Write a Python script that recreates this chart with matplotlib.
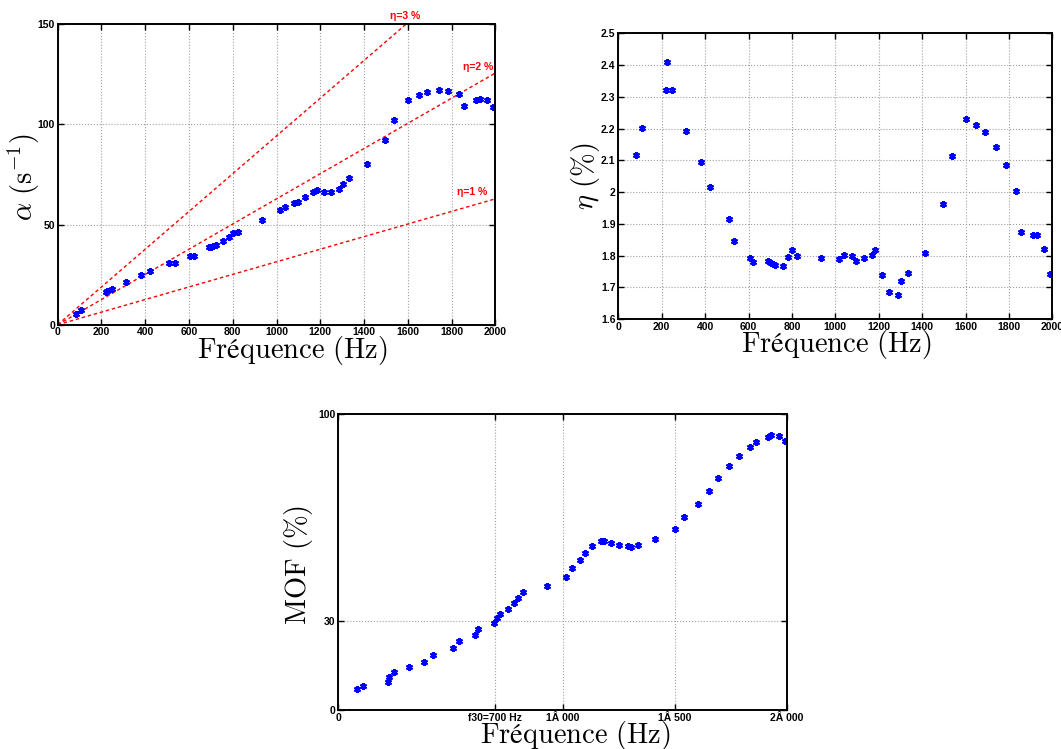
import numpy as np
import matplotlib
matplotlib.use('Agg')
import matplotlib.pyplot as plt

plt.rcParams['mathtext.fontset'] = 'cm'

# --- data ---
freq = [83, 107, 221, 226, 249, 312, 379, 421, 510, 535, 605, 621, 691, 702,
        711, 722, 757, 782, 800, 823, 932, 1017, 1040, 1078, 1097, 1131, 1169,
        1183, 1215, 1249, 1287, 1303, 1333, 1412, 1498, 1539, 1601, 1650, 1688,
        1742, 1785, 1833, 1857, 1912, 1928, 1963, 1989]

alpha = [5.5, 7.3, 16.1, 17.0, 18.0, 21.5, 24.8, 26.6, 30.6, 30.8, 34.1, 34.5,
         38.6, 39.0, 39.4, 39.8, 42.0, 44.0, 45.6, 46.4, 52.4, 57.1, 58.8,
         60.9, 61.3, 63.6, 66.3, 67.4, 66.4, 66.1, 67.8, 70.4, 73.1, 80.2,
         92.2, 102.2, 112.2, 114.7, 116.2, 117.2, 116.9, 115.4, 109.4, 112.2,
         112.9, 112.2, 108.9]

eta = [2.117, 2.201, 2.320, 2.411, 2.320, 2.191, 2.096, 2.016, 1.915, 1.845,
       1.792, 1.780, 1.784, 1.776, 1.772, 1.770, 1.766, 1.794, 1.818, 1.797,
       1.792, 1.790, 1.803, 1.800, 1.782, 1.792, 1.803, 1.816, 1.740, 1.686,
       1.677, 1.720, 1.745, 1.809, 1.961, 2.114, 2.229, 2.211, 2.189, 2.143,
       2.085, 2.003, 1.874, 1.866, 1.864, 1.819, 1.742]

mof_freq = [85, 108, 221, 226, 250, 313, 382, 423, 510, 536, 609, 623, 692,
            707, 721, 758, 782, 802, 825, 932, 1016, 1042, 1079, 1098, 1132,
            1169, 1184, 1217, 1250, 1291, 1305, 1336, 1413, 1501, 1542, 1602,
            1652, 1691, 1743, 1786, 1835, 1860, 1917, 1930, 1964, 1992]

mof = [7.0, 8.2, 9.6, 11.1, 12.7, 14.4, 16.3, 18.7, 20.9, 23.2, 25.3, 27.5,
       29.4, 31.0, 32.5, 34.2, 36.0, 37.8, 39.8, 42.0, 44.9, 47.9, 50.6, 53.2,
       55.5, 57.1, 57.1, 56.5, 55.7, 55.3, 55.2, 55.9, 57.9, 61.1, 65.3, 69.7,
       74.0, 78.3, 82.4, 85.9, 88.7, 90.5, 92.2, 93.0, 92.6, 90.9]

eta_lines = [3, 2, 1]
eta_line_labels = ['\u03b7=3 %', '\u03b7=2 %', '\u03b7=1 %']
eta_label_pos = [(1587, 154.3), (1921, 128.7), (1894, 66.3)]

mof_ticks = [0, 700, 1000, 1500, 2000]
mof_tick_labels = ['0', 'f30=700 Hz', '1\u00c2 000', '1\u00c2 500', '2\u00c2 000']

eta_yticks = [1.6, 1.7, 1.8, 1.9, 2.0, 2.1, 2.2, 2.3, 2.4, 2.5]
eta_ytick_labels = ['1.6', '1.7', '1.8', '1.9', '2', '2.1', '2.2', '2.3', '2.4', '2.5']

W, H = 1061, 749
TICK_FONT = dict(family=['Liberation Sans', 'DejaVu Sans'], weight='bold', size=7.5)
LABEL_SIZE = 20.5
XLABEL = r'$\mathrm{Fréquence\ (Hz)}$'
MARK = dict(linestyle='none', marker=(6, 2, 0), markersize=5,
            markeredgewidth=1.5, color='#0000ff')


def make_axes(fig, x0, y0, x1, y1):
    # pixel box (top-left origin) -> figure fraction
    return fig.add_axes([x0 / W, 1 - y1 / H, (x1 - x0) / W, (y1 - y0) / H])


def style(ax):
    for sp in ax.spines.values():
        sp.set_linewidth(1.4)
    ax.tick_params(direction='in', top=True, right=True, length=4, width=1,
                   pad=2)
    for lab in ax.get_xticklabels() + ax.get_yticklabels():
        lab.set_fontproperties(matplotlib.font_manager.FontProperties(**TICK_FONT))
    ax.grid(True, linestyle=':', color='#a0a0a0', linewidth=0.8)
    ax.set_axisbelow(True)


fig = plt.figure(figsize=(W / 100, H / 100), dpi=100)

# --- alpha vs frequency ---
ax1 = make_axes(fig, 57.7, 24.3, 495.3, 324.7)
f_line = np.array([0, 2000])
for e in eta_lines:
    ax1.plot(f_line, np.pi * f_line * e / 100, color='red', linestyle='--',
             dashes=(2.5, 2), linewidth=1)
for lab, (x, y) in zip(eta_line_labels, eta_label_pos):
    ax1.text(x, y, lab, color='red', ha='center', va='center',
             clip_on=False, **TICK_FONT)
ax1.plot(freq, alpha, **MARK)
ax1.set_xlim(0, 2000)
ax1.set_ylim(0, 150)
ax1.set_xticks(range(0, 2001, 200))
ax1.set_yticks([0, 50, 100, 150])
style(ax1)
ax1.set_xlabel(XLABEL, fontsize=LABEL_SIZE, va='top')
ax1.xaxis.set_label_coords(0.535, -0.03)
ax1.set_ylabel(r'$\alpha\ (\mathrm{s}^{\mathrm{-1}})$', fontsize=LABEL_SIZE)
ax1.yaxis.set_label_coords(-0.036, 0.49)

# --- eta vs frequency ---
ax2 = make_axes(fig, 618.3, 33.3, 1052.3, 319.0)
ax2.plot(freq, eta, **MARK)
ax2.set_xlim(0, 2000)
ax2.set_ylim(1.6, 2.5)
ax2.set_xticks(range(0, 2001, 200))
ax2.set_yticks(eta_yticks)
ax2.set_yticklabels(eta_ytick_labels)
style(ax2)
ax2.set_xlabel(XLABEL, fontsize=LABEL_SIZE, va='top')
ax2.xaxis.set_label_coords(0.503, -0.03)
ax2.set_ylabel(r'$\eta\ (\%)$', fontsize=LABEL_SIZE)
ax2.yaxis.set_label_coords(-0.038, 0.5)

# --- MOF vs frequency ---
ax3 = make_axes(fig, 338.3, 414.0, 787.0, 710.0)
ax3.plot(mof_freq, mof, **MARK)
ax3.set_xlim(0, 2000)
ax3.set_ylim(0, 100)
ax3.set_xticks(mof_ticks)
ax3.set_xticklabels(mof_tick_labels)
ax3.set_yticks([0, 30, 100])
style(ax3)
ax3.set_xlabel(XLABEL, fontsize=LABEL_SIZE, va='top')
ax3.xaxis.set_label_coords(0.527, -0.032)
ax3.set_ylabel(r'$\mathrm{MOF\ (\%)}$', fontsize=LABEL_SIZE)
ax3.yaxis.set_label_coords(-0.052, 0.49)

fig.savefig('out.png', dpi=100)
